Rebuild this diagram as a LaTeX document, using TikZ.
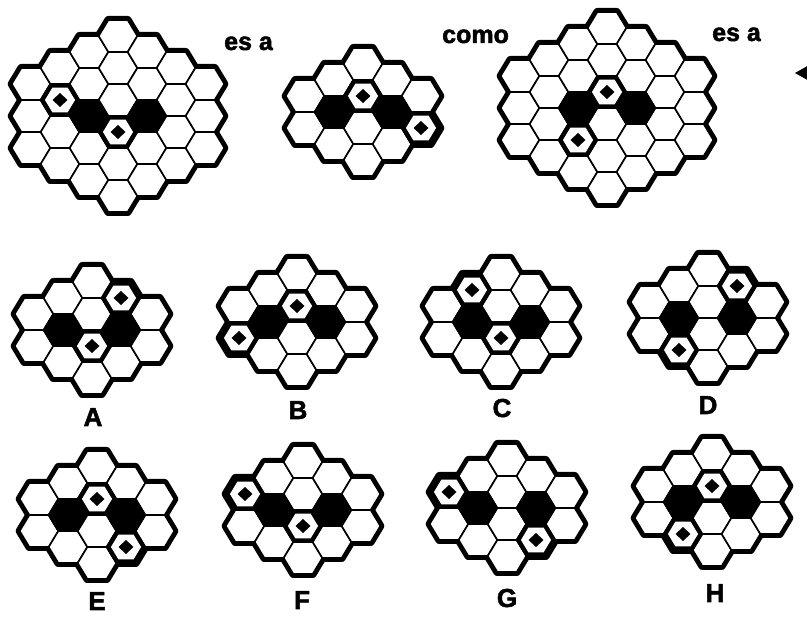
\documentclass[tikz,border=0pt]{standalone}
\usepackage{fontspec}
\setmainfont{Liberation Sans}
\newfontfamily\heavyfont{Liberation Sans}[BoldFeatures={FakeBold=2}]
\usepackage{tikz}
\usetikzlibrary{calc}
\definecolor{ink}{RGB}{0,0,0}
\definecolor{paper}{RGB}{255,255,255}

\newcommand{\hexshape}{(19.3,0) -- (9.65,16) -- (-9.65,16) -- (-19.3,0) -- (-9.65,-16) -- (9.65,-16) -- cycle}
\newcommand{\gemshape}{(0,-7) -- (7.5,0) -- (0,7) -- (-7.5,0) -- cycle}
\def\bigcells{-3/-2,-3/0,-3/2,-2/-3,-2/-1,-2/1,-2/3,-1/-4,-1/-2,-1/0,-1/2,-1/4,0/-5,0/-3,0/-1,0/1,0/3,0/5,1/-4,1/-2,1/0,1/2,1/4,2/-3,2/-1,2/1,2/3,3/-2,3/0,3/2}
\def\smallcells{-2/-1,-2/1,-1/-2,-1/0,-1/2,0/-3,0/-1,0/1,0/3,1/-2,1/0,1/2,2/-1,2/1}
\newcommand{\hexboard}[4]{%
  \begin{scope}[shift={#2}]
    \coordinate (#1) at (0,0);
    \foreach \c/\v in #3 {\draw[rim, shift={(\c*29,\v*16)}] \hexshape;}
    \foreach \c/\v in #3 {\draw[cell, shift={(\c*29,\v*16)}] \hexshape;}
    \foreach \c in {-1,1} {\draw[cell, fill=ink, shift={(\c*29,0)}] \hexshape;}
    \foreach \c/\v in #4 {\draw[cell, fill=ink, shift={(\c*29,\v*16)}] \hexshape;
      \fill[paper, shift={(\c*29,\v*16)}, scale=0.78] \hexshape;
      \fill[ink, shift={(\c*29,\v*16)}] \gemshape;}
  \end{scope}}

\begin{document}
\begin{tikzpicture}[x=1pt, y=-1pt,
  rim/.style={draw=ink, line width=8pt, line join=round},
  cell/.style={draw=ink, fill=paper, line width=1.6pt, line join=round},
  word/.style={font=\heavyfont\fontsize{25}{25}\selectfont\bfseries, anchor=base west, inner sep=0pt},
  letter/.style={font=\heavyfont\fontsize{26}{26}\selectfont\bfseries, anchor=base, inner sep=0pt}]
  \useasboundingbox (0,0) rectangle (807,617);
  \clip (0,0) rectangle (807,617);
  \fill[paper] (0,0) rectangle (807,617);

  \hexboard{big1}{(118,116)}{\bigcells}{{-2/-1,0/1}}
  \hexboard{small0}{(363,112)}{\smallcells}{{0/-1,2/1}}
  \hexboard{big2}{(607,108)}{\bigcells}{{0/-1,-1/2}}

  \node[word] (esa1) at (224,50) {es a};
  \node[word] (como) at (442,43) {como};
  \node[word] (esa2) at (712,41) {es a};
  \fill[ink] (795,73) -- (827,55) -- (827,91) -- cycle;

  \hexboard{boardA}{(92,330)}{\smallcells}{{1/-2,0/1}}
  \hexboard{boardB}{(297,322)}{\smallcells}{{0/-1,-2/1}}
  \hexboard{boardC}{(501,322)}{\smallcells}{{-1/-2,0/1}}
  \hexboard{boardD}{(708,318)}{\smallcells}{{1/-2,-1/2}}
  \hexboard{boardE}{(97,515)}{\smallcells}{{0/-1,1/2}}
  \hexboard{boardF}{(303,510)}{\smallcells}{{-2/-1,0/1}}
  \hexboard{boardG}{(507,508)}{\smallcells}{{-2/-1,1/2}}
  \hexboard{boardH}{(712,502)}{\smallcells}{{0/-1,-1/2}}

  \node[letter] (labA) at ($(boardA)+(1,96)$) {A};
  \node[letter] (labB) at ($(boardB)+(1,97)$) {B};
  \node[letter] (labC) at ($(boardC)+(1,95)$) {C};
  \node[letter] (labD) at ($(boardD)+(0,96)$) {D};
  \node[letter] (labE) at ($(boardE)+(0,95)$) {E};
  \node[letter] (labF) at ($(boardF)+(-1,99)$) {F};
  \node[letter] (labG) at ($(boardG)+(0,99)$) {G};
  \node[letter] (labH) at ($(boardH)+(3,100)$) {H};
\end{tikzpicture}
\end{document}
